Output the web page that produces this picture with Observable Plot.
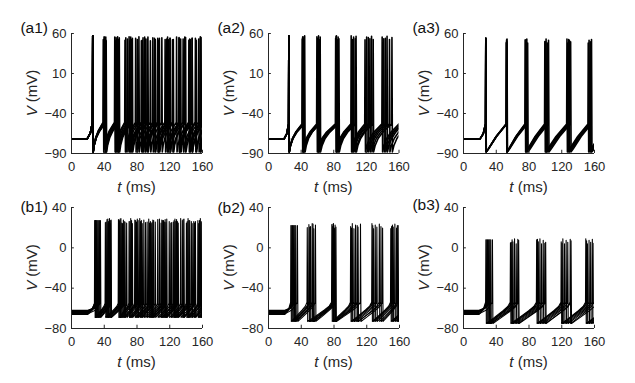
<!DOCTYPE html>
<html><head><meta charset="utf-8">
<script src="https://cdn.jsdelivr.net/npm/d3@7"></script>
<script src="https://cdn.jsdelivr.net/npm/@observablehq/plot@0.6"></script>
<style>
body{margin:0;background:#fff;}
#fig{position:relative;width:635px;height:383px;overflow:hidden;background:#fff;font-family:"Liberation Sans",Arial,sans-serif;}
.panel{position:absolute;}
</style></head><body><div id="fig"></div>
<script>
// ---- tick labels ----
const xTicks = [0, 40, 80, 120, 160];
const yTicksA = [-90, -40, 10, 60];
const yTicksB = [-80, -40, 0, 40];
const panelNames = ["(a1)", "(a2)", "(a3)", "(b1)", "(b2)", "(b3)"];

// ---- spike times (ms) of each trace ----
const spikesA1 = [
  [25.6, 39, 54, 68, 82, 96, 110, 124, 138, 152],
  [25.6, 40, 55, 70, 85, 99, 114, 128, 143, 157],
  [25.6, 41, 56, 71, 87, 102, 117, 132, 147],
  [25.6, 39.5, 53, 66, 80, 93, 106, 120, 133, 147],
  [25.6, 42, 58, 73, 89, 105, 120, 136, 151],
  [25.6, 40.5, 57, 72, 86, 101, 116, 131, 145, 159],
  [25.6, 38.5, 52.5, 65, 78, 92, 105, 118, 131, 144, 157],
  [25.6, 41.5, 56.5, 74, 90, 107, 123, 139, 155]
];
const spikesA2 = [
  [24.6, 41, 59, 82, 101, 118, 139],
  [24.6, 42, 60, 83, 102, 120, 141],
  [24.6, 43, 61, 84, 104, 124, 145],
  [24.6, 44, 62, 85, 106, 126, 148],
  [24.6, 42.5, 63, 86, 107, 128, 151],
  [24.6, 41.5, 60.5, 82.5, 103, 122, 143]
];
const spikesA3 = [
  [26.9, 52, 75, 99, 126, 152],
  [26.9, 52.3, 76, 100.5, 127, 153],
  [26.9, 52.6, 77, 102, 129, 154.5],
  [26.9, 52.8, 78, 103.5, 130.5, 156],
  [26.9, 52.1, 75.5, 100, 128, 155]
];
const spikesB1 = [
  [28, 41, 57, 70, 83, 97, 110, 124, 137, 150],
  [29, 43, 58, 72, 86, 99, 113, 126, 140, 154],
  [30, 45, 60, 74, 88, 102, 116, 130, 144, 158],
  [31, 46, 62, 77, 92, 107, 121, 135, 149],
  [33, 47, 63, 79, 94, 109, 125, 141, 156],
  [35, 48, 65, 80, 95, 112, 127, 143, 159],
  [28.5, 42, 59, 67, 81, 96, 111, 122, 136, 151],
  [32, 44, 61, 73, 84, 100, 115, 128, 146, 157],
  [29.5, 44.5, 58.5, 71, 85, 98, 114, 129, 142, 155],
  [34, 47.5, 64, 78, 90, 105, 119, 133, 147]
];
const spikesB2 = [
  [27, 47, 77, 100, 126, 149],
  [28, 49, 78, 102, 128, 151],
  [29, 51, 79, 104, 130, 152],
  [31, 53, 80, 106, 132, 154],
  [33, 55, 81, 109, 135, 156],
  [35, 57, 82, 112, 139, 158],
  [30, 50, 78.5, 101, 127, 150],
  [32, 54, 80.5, 108, 137, 157]
];
const spikesB3 = [
  [27, 57, 89, 119, 149],
  [28, 59, 91, 121, 151],
  [29, 60, 93, 123, 153],
  [31, 62, 95, 125, 155],
  [33, 64, 97, 127, 157],
  [35, 67, 100, 130, 159],
  [30, 58, 90, 120, 150],
  [32, 66, 99, 131]
];

// ---- voltage levels (mV) per panel ----
const levelsA1 = {rest: -72, onset: 19, thr: -51, firstPeak: 57, peak: 54, reset: -88, rise: 0.35, fall: 0.9};
const levelsA2 = {rest: -72, onset: 19, thr: -53, firstPeak: 57, peak: 55, reset: -88, rise: 0.35, fall: 0.9};
const levelsA3 = {rest: -72, onset: 20, thr: -53, firstPeak: 54, peak: 51, reset: -88, rise: 0.35, fall: 0.9};
const levelsB1 = {rest: -64, onset: 20, thr: -55, firstPeak: 27, peak: 27, reset: -69, rise: 0.35, fall: 0.9};
const levelsB2 = {rest: -64, onset: 20, thr: -54, firstPeak: 22, peak: 22, reset: -73, rise: 0.35, fall: 0.9};
const levelsB3 = {rest: -64, onset: 19, thr: -54, firstPeak: 8, peak: 7, reset: -75, rise: 0.35, fall: 0.9};

// ---- inter-spike recovery shape: [fraction of interval, fraction of reset->threshold rise] ----
const rampA = [[0, 0], [0.08, 0.22], [0.25, 0.48], [0.5, 0.7], [0.8, 0.88], [1, 1]];
const rampA3 = [[0, 0], [0.1, 0.1], [0.5, 0.55], [1, 1]];
const rampB = [[0, 0], [0.3, 0.25], [0.7, 0.6], [0.9, 0.8], [1, 1]];
const restSpreadB = [-2, -1, 0, 1, 2, -1.5, 0.5, 1.5, -0.5, 1];
const peakSpread = [0, -2, 1, -1, 2, -3, 0.5, -1.5, 1.5, -2.5, 0, -1];

function buildTraces(spikeSets, lv, ramp, spread) {
  const out = [];
  spikeSets.forEach((spikes, id) => {
    const rest = lv.rest + (spread ? spread[id % spread.length] : 0);
    out.push({id, t: 0, v: rest}, {id, t: lv.onset, v: rest});
    const s0 = spikes[0];
    out.push({id, t: lv.onset + 0.6 * (s0 - lv.onset), v: rest + 0.35 * (lv.thr - rest)});
    const addRamp = (t0, t1) => {
      for (const [ft, fv] of ramp) if (ft > 0) out.push({id, t: t0 + ft * (t1 - t0), v: lv.reset + fv * (lv.thr - lv.reset)});
    };
    spikes.forEach((s, k) => {
      if (k > 0) addRamp(spikes[k - 1] + lv.fall, s);
      out.push({id, t: s, v: lv.thr});
      const pk = k === 0 ? lv.firstPeak : lv.peak + peakSpread[(id + k) % peakSpread.length];
      out.push({id, t: s + lv.rise, v: pk});
      out.push({id, t: s + lv.fall, v: lv.reset});
    });
    const n = spikes.length, last = spikes[n - 1];
    const isi = n > 1 ? last - spikes[n - 2] : 20;
    addRamp(last + lv.fall, last + isi);
  });
  return out;
}

const panels = [
  {name: panelNames[0], spikes: spikesA1, lv: levelsA1, ramp: rampA, spread: null, yDomain: [-90, 60], yTicks: yTicksA, left: 71, top: 33, fw: 131, fh: 120, sw: 1.6, labY: 28},
  {name: panelNames[1], spikes: spikesA2, lv: levelsA2, ramp: rampA, spread: null, yDomain: [-90, 60], yTicks: yTicksA, left: 268, top: 33, fw: 130.5, fh: 120, sw: 1.6, labY: 28},
  {name: panelNames[2], spikes: spikesA3, lv: levelsA3, ramp: rampA3, spread: null, yDomain: [-90, 60], yTicks: yTicksA, left: 463, top: 33, fw: 131, fh: 120, sw: 1.6, labY: 28},
  {name: panelNames[3], spikes: spikesB1, lv: levelsB1, ramp: rampB, spread: restSpreadB, yDomain: [-80, 40], yTicks: yTicksB, left: 71, top: 207, fw: 131, fh: 121, sw: 1.1, labY: 207},
  {name: panelNames[4], spikes: spikesB2, lv: levelsB2, ramp: rampB, spread: restSpreadB, yDomain: [-80, 40], yTicks: yTicksB, left: 268, top: 207, fw: 131, fh: 121, sw: 1.1, labY: 208},
  {name: panelNames[5], spikes: spikesB3, lv: levelsB3, ramp: rampB, spread: restSpreadB, yDomain: [-80, 40], yTicks: yTicksB, left: 463, top: 207, fw: 131, fh: 121, sw: 1.1, labY: 205}
];

const fig = document.getElementById("fig");
const ML = 71, MT = 33, W = 214, H = 200;
const axisColor = "#262626";

for (const p of panels) {
  const data = buildTraces(p.spikes, p.lv, p.ramp, p.spread);
  const [y0, y1] = p.yDomain;
  const tickLenY = (y1 - y0) * 0.027;
  const svg = Plot.plot({
    width: W, height: H,
    marginLeft: ML, marginTop: MT, marginRight: W - ML - p.fw, marginBottom: H - MT - p.fh,
    style: {background: "transparent", overflow: "visible", fontFamily: "Liberation Sans, Arial, sans-serif", fontSize: "13px", color: axisColor},
    x: {domain: [0, 160], ticks: xTicks, tickSize: 0, tickPadding: 8, label: null},
    y: {domain: p.yDomain, ticks: p.yTicks, tickSize: 0, tickPadding: 5, label: null},
    marks: [
      Plot.line(data, {x: "t", y: "v", z: "id", stroke: "black", strokeWidth: p.sw, clip: true}),
      Plot.ruleY(p.yTicks, {y: d => d, x1: 0, x2: 3.5, stroke: axisColor}),
      Plot.ruleX(xTicks, {x: d => d, y1: y0, y2: y0 + tickLenY, stroke: axisColor}),
      Plot.ruleX([0], {stroke: axisColor}),
      Plot.ruleY([y0], {stroke: axisColor})
    ]
  });
  const s = d3.select(svg);
  const cx = ML - 39, cy = MT + p.fh / 2;
  const yl = s.append("text")
    .attr("transform", `translate(${cx},${cy}) rotate(-90)`)
    .attr("text-anchor", "middle").attr("dy", "0.35em")
    .attr("font-size", 15).attr("fill", axisColor);
  yl.append("tspan").attr("font-style", "italic").text("V");
  yl.append("tspan").text(" (mV)");
  const xl = s.append("text")
    .attr("x", ML + p.fw / 2).attr("y", MT + p.fh + 34)
    .attr("text-anchor", "middle").attr("dy", "0.35em")
    .attr("font-size", 15).attr("fill", axisColor);
  xl.append("tspan").attr("font-style", "italic").text("t");
  xl.append("tspan").text(" (ms)");
  s.append("text")
    .attr("x", ML - 23).attr("y", MT + (p.labY - p.top))
    .attr("text-anchor", "end").attr("dy", "0.35em")
    .attr("font-size", 15.5).attr("fill", "#111")
    .text(p.name);
  const div = document.createElement("div");
  div.className = "panel";
  div.style.left = (p.left - ML) + "px";
  div.style.top = (p.top - MT) + "px";
  div.style.width = W + "px";
  div.style.height = H + "px";
  div.appendChild(svg);
  fig.appendChild(div);
}
</script></body></html>
